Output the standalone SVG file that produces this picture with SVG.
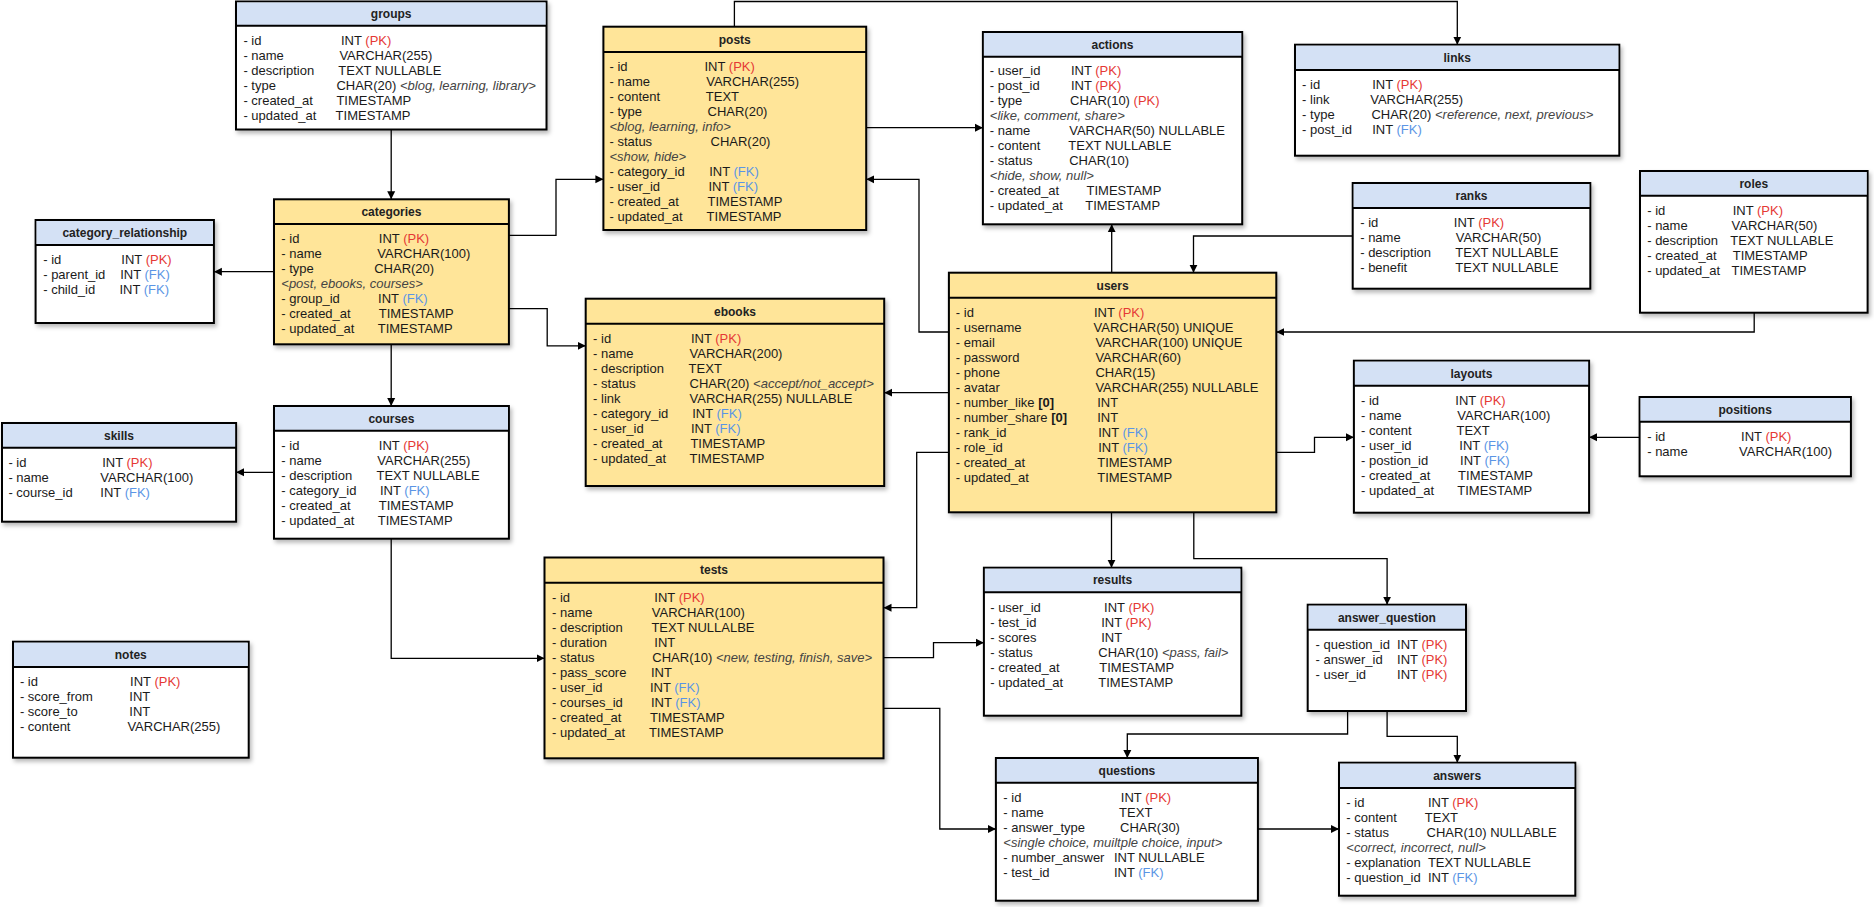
<svg xmlns="http://www.w3.org/2000/svg" width="1874" height="907" viewBox="0 0 1874 907">
<defs>
  <filter id="shadow" x="-5%" y="-5%" width="115%" height="115%">
    <feDropShadow dx="2" dy="3" stdDeviation="2" flood-color="#000" flood-opacity="0.28"/>
  </filter>
  <marker id="arr" viewBox="0 0 10 10" refX="10" refY="5" markerWidth="8" markerHeight="9" markerUnits="userSpaceOnUse" orient="auto">
    <path d="M0,0 L10,5 L0,10 z" fill="#000"/>
  </marker>
</defs>
<style>
  .box { stroke: #000; stroke-width: 2; filter: url(#shadow); }
  .w { fill: #ffffff; }
  .y { fill: #FFE599; }
  .hb { fill: #D4E1F5; }
  .hl { stroke: #000; stroke-width: 2; }
  .ttl { font-family: "Liberation Sans", Arial, sans-serif; font-size: 12px; font-weight: bold; fill: #222; text-anchor: middle; }
  .r { font-family: "Liberation Sans", Arial, sans-serif; font-size: 13px; fill: #1a1a1a; }
  .pk { fill: #E53935; }
  .fk { fill: #5B95E5; }
  .e { font-style: italic; fill: #444; }
  .b { font-weight: bold; }
  .c { fill: none; stroke: #000; stroke-width: 1.3; marker-end: url(#arr); }
</style>
<rect width="1874" height="907" fill="#ffffff"/>

<!-- relationships -->
<g id="connectors">
  <path class="c" d="M391.2,129.5 V199.3"/>
  <path class="c" d="M274,271.7 H213.9"/>
  <path class="c" d="M508.9,235.3 H556 V179.3 H603.4"/>
  <path class="c" d="M508.9,308.7 H547.2 V345.8 H585.7"/>
  <path class="c" d="M391.2,344.3 V406"/>
  <path class="c" d="M274,472.3 H236.1"/>
  <path class="c" d="M391.2,538.7 V658.3 H544.5"/>
  <path class="c" d="M734.4,26.7 V1.5 H1457.3 V44.7"/>
  <path class="c" d="M866.2,127.7 H982.9"/>
  <path class="c" d="M948.9,332 H919 V179.3 H866.2"/>
  <path class="c" d="M948.9,392.7 H884.2"/>
  <path class="c" d="M948.9,452.3 H916.7 V607.7 H883.5"/>
  <path class="c" d="M1111.7,272.7 V224.3"/>
  <path class="c" d="M1352.7,236 H1193.5 V272.7"/>
  <path class="c" d="M1754.2,312.7 V332 H1276.3"/>
  <path class="c" d="M1276.3,452.3 H1314.5 V437.3 H1353.9"/>
  <path class="c" d="M1639.6,437.3 H1589.1"/>
  <path class="c" d="M1111.5,512.3 V567.7"/>
  <path class="c" d="M1193.8,512.3 V558.7 H1387.1 V604.7"/>
  <path class="c" d="M883.5,657.7 H933.5 V642.7 H983.9"/>
  <path class="c" d="M883.5,708.3 H939.8 V829 H995.9"/>
  <path class="c" d="M1347.6,711 V734 H1127.3 V758"/>
  <path class="c" d="M1387.1,711 V736.3 H1457.3 V762.7"/>
  <path class="c" d="M1257.9,829 H1339"/>
</g>

<g id="groups">
  <rect class="box w" x="236" y="1.5" width="310.5" height="128"/>
  <rect class="hb" x="237" y="2.5" width="308.5" height="23.2"/>
  <line class="hl" x1="236" y1="25.7" x2="546.5" y2="25.7"/>
  <text class="ttl" x="391.2" y="18.3">groups</text>
  <text class="r" y="44.8"><tspan x="243.4">- id</tspan><tspan x="341">INT <tspan class="pk">(PK)</tspan></tspan></text>
  <text class="r" y="59.8"><tspan x="243.4">- name</tspan><tspan x="339.4">VARCHAR(255)</tspan></text>
  <text class="r" y="74.8"><tspan x="243.4">- description</tspan><tspan x="338.3">TEXT NULLABLE</tspan></text>
  <text class="r" y="89.8"><tspan x="243.4">- type</tspan><tspan x="336.4">CHAR(20) <tspan class="e">&lt;blog, learning, library&gt;</tspan></tspan></text>
  <text class="r" y="104.8"><tspan x="243.4">- created_at</tspan><tspan x="336.4">TIMESTAMP</tspan></text>
  <text class="r" y="119.8"><tspan x="243.4">- updated_at</tspan><tspan x="335.6">TIMESTAMP</tspan></text>
</g>

<g id="categories">
  <rect class="box y" x="274" y="199.3" width="234.9" height="145"/>
  <line class="hl" x1="274" y1="224" x2="508.9" y2="224"/>
  <text class="ttl" x="391.4" y="216">categories</text>
  <text class="r" y="243.2"><tspan x="281.3">- id</tspan><tspan x="378.8">INT <tspan class="pk">(PK)</tspan></tspan></text>
  <text class="r" y="258.2"><tspan x="281.3">- name</tspan><tspan x="377.3">VARCHAR(100)</tspan></text>
  <text class="r" y="273.2"><tspan x="281.3">- type</tspan><tspan x="374.2">CHAR(20)</tspan></text>
  <text class="r e" x="281.3" y="288.2">&lt;post, ebooks, courses&gt;</text>
  <text class="r" y="303.2"><tspan x="281.3">- group_id</tspan><tspan x="378.1">INT <tspan class="fk">(FK)</tspan></tspan></text>
  <text class="r" y="318.2"><tspan x="281.3">- created_at</tspan><tspan x="378.8">TIMESTAMP</tspan></text>
  <text class="r" y="333.2"><tspan x="281.3">- updated_at</tspan><tspan x="377.7">TIMESTAMP</tspan></text>
</g>

<g id="category_relationship">
  <rect class="box w" x="35.6" y="220" width="178.3" height="103"/>
  <rect class="hb" x="36.6" y="221" width="176.3" height="24"/>
  <line class="hl" x1="35.6" y1="245" x2="213.9" y2="245"/>
  <text class="ttl" x="124.8" y="236.8">category_relationship</text>
  <text class="r" y="263.8"><tspan x="43.2">- id</tspan><tspan x="121.3">INT <tspan class="pk">(PK)</tspan></tspan></text>
  <text class="r" y="278.8"><tspan x="43.2">- parent_id</tspan><tspan x="120.2">INT <tspan class="fk">(FK)</tspan></tspan></text>
  <text class="r" y="293.8"><tspan x="43.2">- child_id</tspan><tspan x="119.4">INT <tspan class="fk">(FK)</tspan></tspan></text>
</g>

<g id="posts">
  <rect class="box y" x="603.4" y="26.7" width="262.8" height="203.3"/>
  <line class="hl" x1="603.4" y1="52" x2="866.2" y2="52"/>
  <text class="ttl" x="734.8" y="43.7">posts</text>
  <text class="r" y="71.2"><tspan x="609.5">- id</tspan><tspan x="704.5">INT <tspan class="pk">(PK)</tspan></tspan></text>
  <text class="r" y="86.2"><tspan x="609.5">- name</tspan><tspan x="706.2">VARCHAR(255)</tspan></text>
  <text class="r" y="101.2"><tspan x="609.5">- content</tspan><tspan x="705.8">TEXT</tspan></text>
  <text class="r" y="116.2"><tspan x="609.5">- type</tspan><tspan x="707.5">CHAR(20)</tspan></text>
  <text class="r e" x="609.5" y="131.2">&lt;blog, learning, info&gt;</text>
  <text class="r" y="146.2"><tspan x="609.5">- status</tspan><tspan x="710.5">CHAR(20)</tspan></text>
  <text class="r e" x="609.5" y="161.2">&lt;show, hide&gt;</text>
  <text class="r" y="176.2"><tspan x="609.5">- category_id</tspan><tspan x="709.2">INT <tspan class="fk">(FK)</tspan></tspan></text>
  <text class="r" y="191.2"><tspan x="609.5">- user_id</tspan><tspan x="708.4">INT <tspan class="fk">(FK)</tspan></tspan></text>
  <text class="r" y="206.2"><tspan x="609.5">- created_at</tspan><tspan x="707.5">TIMESTAMP</tspan></text>
  <text class="r" y="221.2"><tspan x="609.5">- updated_at</tspan><tspan x="706.6">TIMESTAMP</tspan></text>
</g>

<g id="actions">
  <rect class="box w" x="982.9" y="32" width="259.3" height="192.3"/>
  <rect class="hb" x="983.9" y="33" width="257.3" height="23.7"/>
  <line class="hl" x1="982.9" y1="56.7" x2="1242.2" y2="56.7"/>
  <text class="ttl" x="1112.5" y="48.6">actions</text>
  <text class="r" y="75.2"><tspan x="989.8">- user_id</tspan><tspan x="1070.9">INT <tspan class="pk">(PK)</tspan></tspan></text>
  <text class="r" y="90.2"><tspan x="989.8">- post_id</tspan><tspan x="1070.9">INT <tspan class="pk">(PK)</tspan></tspan></text>
  <text class="r" y="105.2"><tspan x="989.8">- type</tspan><tspan x="1070">CHAR(10) <tspan class="pk">(PK)</tspan></tspan></text>
  <text class="r e" x="989.8" y="120.2">&lt;like, comment, share&gt;</text>
  <text class="r" y="135.2"><tspan x="989.8">- name</tspan><tspan x="1069.2">VARCHAR(50) NULLABLE</tspan></text>
  <text class="r" y="150.2"><tspan x="989.8">- content</tspan><tspan x="1068.3">TEXT NULLABLE</tspan></text>
  <text class="r" y="165.2"><tspan x="989.8">- status</tspan><tspan x="1069.2">CHAR(10)</tspan></text>
  <text class="r e" x="989.8" y="180.2">&lt;hide, show, null&gt;</text>
  <text class="r" y="195.2"><tspan x="989.8">- created_at</tspan><tspan x="1086.5">TIMESTAMP</tspan></text>
  <text class="r" y="210.2"><tspan x="989.8">- updated_at</tspan><tspan x="1085.2">TIMESTAMP</tspan></text>
</g>

<g id="links">
  <rect class="box w" x="1295" y="44.7" width="324.3" height="111"/>
  <rect class="hb" x="1296" y="45.7" width="322.3" height="24.3"/>
  <line class="hl" x1="1295" y1="70" x2="1619.3" y2="70"/>
  <text class="ttl" x="1457.2" y="61.6">links</text>
  <text class="r" y="88.8"><tspan x="1302.1">- id</tspan><tspan x="1372.2">INT <tspan class="pk">(PK)</tspan></tspan></text>
  <text class="r" y="103.8"><tspan x="1302.1">- link</tspan><tspan x="1370.2">VARCHAR(255)</tspan></text>
  <text class="r" y="118.8"><tspan x="1302.1">- type</tspan><tspan x="1371.4">CHAR(20) <tspan class="e">&lt;reference, next, previous&gt;</tspan></tspan></text>
  <text class="r" y="133.8"><tspan x="1302.1">- post_id</tspan><tspan x="1372.2">INT <tspan class="fk">(FK)</tspan></tspan></text>
</g>

<g id="ranks">
  <rect class="box w" x="1352.7" y="183" width="237.6" height="105.7"/>
  <rect class="hb" x="1353.7" y="184" width="235.6" height="24"/>
  <line class="hl" x1="1352.7" y1="208" x2="1590.3" y2="208"/>
  <text class="ttl" x="1471.5" y="199.8">ranks</text>
  <text class="r" y="226.8"><tspan x="1360.2">- id</tspan><tspan x="1453.8">INT <tspan class="pk">(PK)</tspan></tspan></text>
  <text class="r" y="241.8"><tspan x="1360.2">- name</tspan><tspan x="1455.7">VARCHAR(50)</tspan></text>
  <text class="r" y="256.8"><tspan x="1360.2">- description</tspan><tspan x="1455.3">TEXT NULLABLE</tspan></text>
  <text class="r" y="271.8"><tspan x="1360.2">- benefit</tspan><tspan x="1455.3">TEXT NULLABLE</tspan></text>
</g>

<g id="roles">
  <rect class="box w" x="1640" y="171" width="227.6" height="141.7"/>
  <rect class="hb" x="1641" y="172" width="225.6" height="23.7"/>
  <line class="hl" x1="1640" y1="195.7" x2="1867.6" y2="195.7"/>
  <text class="ttl" x="1753.8" y="187.6">roles</text>
  <text class="r" y="214.8"><tspan x="1647.2">- id</tspan><tspan x="1732.7">INT <tspan class="pk">(PK)</tspan></tspan></text>
  <text class="r" y="229.8"><tspan x="1647.2">- name</tspan><tspan x="1731.5">VARCHAR(50)</tspan></text>
  <text class="r" y="244.8"><tspan x="1647.2">- description</tspan><tspan x="1730.3">TEXT NULLABLE</tspan></text>
  <text class="r" y="259.8"><tspan x="1647.2">- created_at</tspan><tspan x="1732.7">TIMESTAMP</tspan></text>
  <text class="r" y="274.8"><tspan x="1647.2">- updated_at</tspan><tspan x="1731.5">TIMESTAMP</tspan></text>
</g>

<g id="users">
  <rect class="box y" x="948.9" y="272.7" width="327.4" height="239.6"/>
  <line class="hl" x1="948.9" y1="297.7" x2="1276.3" y2="297.7"/>
  <text class="ttl" x="1112.6" y="289.5">users</text>
  <text class="r" y="316.8"><tspan x="955.8">- id</tspan><tspan x="1094">INT <tspan class="pk">(PK)</tspan></tspan></text>
  <text class="r" y="331.8"><tspan x="955.8">- username</tspan><tspan x="1093.6">VARCHAR(50) UNIQUE</tspan></text>
  <text class="r" y="346.8"><tspan x="955.8">- email</tspan><tspan x="1095.4">VARCHAR(100) UNIQUE</tspan></text>
  <text class="r" y="361.8"><tspan x="955.8">- password</tspan><tspan x="1095.4">VARCHAR(60)</tspan></text>
  <text class="r" y="376.8"><tspan x="955.8">- phone</tspan><tspan x="1095.4">CHAR(15)</tspan></text>
  <text class="r" y="391.8"><tspan x="955.8">- avatar</tspan><tspan x="1095.4">VARCHAR(255) NULLABLE</tspan></text>
  <text class="r" y="406.8"><tspan x="955.8">- number_like <tspan class="b">[0]</tspan></tspan><tspan x="1097.2">INT</tspan></text>
  <text class="r" y="421.8"><tspan x="955.8">- number_share <tspan class="b">[0]</tspan></tspan><tspan x="1097.2">INT</tspan></text>
  <text class="r" y="436.8"><tspan x="955.8">- rank_id</tspan><tspan x="1098.2">INT <tspan class="fk">(FK)</tspan></tspan></text>
  <text class="r" y="451.8"><tspan x="955.8">- role_id</tspan><tspan x="1098.2">INT <tspan class="fk">(FK)</tspan></tspan></text>
  <text class="r" y="466.8"><tspan x="955.8">- created_at</tspan><tspan x="1097.2">TIMESTAMP</tspan></text>
  <text class="r" y="481.8"><tspan x="955.8">- updated_at</tspan><tspan x="1097.2">TIMESTAMP</tspan></text>
</g>

<g id="ebooks">
  <rect class="box y" x="585.7" y="298.7" width="298.5" height="187.3"/>
  <line class="hl" x1="585.7" y1="323.7" x2="884.2" y2="323.7"/>
  <text class="ttl" x="735" y="315.5">ebooks</text>
  <text class="r" y="343.2"><tspan x="593.1">- id</tspan><tspan x="690.9">INT <tspan class="pk">(PK)</tspan></tspan></text>
  <text class="r" y="358.2"><tspan x="593.1">- name</tspan><tspan x="689.5">VARCHAR(200)</tspan></text>
  <text class="r" y="373.2"><tspan x="593.1">- description</tspan><tspan x="688.6">TEXT</tspan></text>
  <text class="r" y="388.2"><tspan x="593.1">- status</tspan><tspan x="689.5">CHAR(20) <tspan class="e">&lt;accept/not_accept&gt;</tspan></tspan></text>
  <text class="r" y="403.2"><tspan x="593.1">- link</tspan><tspan x="689.5">VARCHAR(255) NULLABLE</tspan></text>
  <text class="r" y="418.2"><tspan x="593.1">- category_id</tspan><tspan x="692.2">INT <tspan class="fk">(FK)</tspan></tspan></text>
  <text class="r" y="433.2"><tspan x="593.1">- user_id</tspan><tspan x="690.9">INT <tspan class="fk">(FK)</tspan></tspan></text>
  <text class="r" y="448.2"><tspan x="593.1">- created_at</tspan><tspan x="690.4">TIMESTAMP</tspan></text>
  <text class="r" y="463.2"><tspan x="593.1">- updated_at</tspan><tspan x="689.5">TIMESTAMP</tspan></text>
</g>

<g id="layouts">
  <rect class="box w" x="1353.9" y="360.7" width="235.2" height="152"/>
  <rect class="hb" x="1354.9" y="361.7" width="233.2" height="24"/>
  <line class="hl" x1="1353.9" y1="385.7" x2="1589.1" y2="385.7"/>
  <text class="ttl" x="1471.5" y="377.5">layouts</text>
  <text class="r" y="405.2"><tspan x="1361">- id</tspan><tspan x="1455.3">INT <tspan class="pk">(PK)</tspan></tspan></text>
  <text class="r" y="420.2"><tspan x="1361">- name</tspan><tspan x="1457.3">VARCHAR(100)</tspan></text>
  <text class="r" y="435.2"><tspan x="1361">- content</tspan><tspan x="1456.5">TEXT</tspan></text>
  <text class="r" y="450.2"><tspan x="1361">- user_id</tspan><tspan x="1459.3">INT <tspan class="fk">(FK)</tspan></tspan></text>
  <text class="r" y="465.2"><tspan x="1361">- postion_id</tspan><tspan x="1460.1">INT <tspan class="fk">(FK)</tspan></tspan></text>
  <text class="r" y="480.2"><tspan x="1361">- created_at</tspan><tspan x="1458.1">TIMESTAMP</tspan></text>
  <text class="r" y="495.2"><tspan x="1361">- updated_at</tspan><tspan x="1457.3">TIMESTAMP</tspan></text>
</g>

<g id="positions">
  <rect class="box w" x="1639.6" y="397" width="211.3" height="79.3"/>
  <rect class="hb" x="1640.6" y="398" width="209.3" height="23.7"/>
  <line class="hl" x1="1639.6" y1="421.7" x2="1850.9" y2="421.7"/>
  <text class="ttl" x="1745.2" y="413.6">positions</text>
  <text class="r" y="441.2"><tspan x="1647.2">- id</tspan><tspan x="1741.1">INT <tspan class="pk">(PK)</tspan></tspan></text>
  <text class="r" y="456.2"><tspan x="1647.2">- name</tspan><tspan x="1739.1">VARCHAR(100)</tspan></text>
</g>

<g id="courses">
  <rect class="box w" x="274" y="406" width="234.9" height="132.7"/>
  <rect class="hb" x="275" y="407" width="232.9" height="23.7"/>
  <line class="hl" x1="274" y1="430.7" x2="508.9" y2="430.7"/>
  <text class="ttl" x="391.4" y="422.6">courses</text>
  <text class="r" y="449.8"><tspan x="281.3">- id</tspan><tspan x="378.8">INT <tspan class="pk">(PK)</tspan></tspan></text>
  <text class="r" y="464.8"><tspan x="281.3">- name</tspan><tspan x="377.3">VARCHAR(255)</tspan></text>
  <text class="r" y="479.8"><tspan x="281.3">- description</tspan><tspan x="376.5">TEXT NULLABLE</tspan></text>
  <text class="r" y="494.8"><tspan x="281.3">- category_id</tspan><tspan x="380">INT <tspan class="fk">(FK)</tspan></tspan></text>
  <text class="r" y="509.8"><tspan x="281.3">- created_at</tspan><tspan x="378.8">TIMESTAMP</tspan></text>
  <text class="r" y="524.8"><tspan x="281.3">- updated_at</tspan><tspan x="377.7">TIMESTAMP</tspan></text>
</g>

<g id="skills">
  <rect class="box w" x="2" y="423" width="234.1" height="98.7"/>
  <rect class="hb" x="3" y="424" width="232.1" height="23.7"/>
  <line class="hl" x1="2" y1="447.7" x2="236.1" y2="447.7"/>
  <text class="ttl" x="119" y="439.6">skills</text>
  <text class="r" y="466.8"><tspan x="8.4">- id</tspan><tspan x="102.2">INT <tspan class="pk">(PK)</tspan></tspan></text>
  <text class="r" y="481.8"><tspan x="8.4">- name</tspan><tspan x="100.3">VARCHAR(100)</tspan></text>
  <text class="r" y="496.8"><tspan x="8.4">- course_id</tspan><tspan x="100.3">INT <tspan class="fk">(FK)</tspan></tspan></text>
</g>

<g id="notes">
  <rect class="box w" x="13" y="641.7" width="235.7" height="116"/>
  <rect class="hb" x="14" y="642.7" width="233.7" height="24.3"/>
  <line class="hl" x1="13" y1="667" x2="248.7" y2="667"/>
  <text class="ttl" x="130.8" y="658.6">notes</text>
  <text class="r" y="685.5"><tspan x="19.9">- id</tspan><tspan x="130.1">INT <tspan class="pk">(PK)</tspan></tspan></text>
  <text class="r" y="700.5"><tspan x="19.9">- score_from</tspan><tspan x="129.3">INT</tspan></text>
  <text class="r" y="715.5"><tspan x="19.9">- score_to</tspan><tspan x="129.3">INT</tspan></text>
  <text class="r" y="730.5"><tspan x="19.9">- content</tspan><tspan x="127.4">VARCHAR(255)</tspan></text>
</g>

<g id="tests">
  <rect class="box y" x="544.5" y="557.5" width="339" height="200.8"/>
  <line class="hl" x1="544.5" y1="582.7" x2="883.5" y2="582.7"/>
  <text class="ttl" x="714" y="574.4">tests</text>
  <text class="r" y="601.8"><tspan x="552">- id</tspan><tspan x="654.3">INT <tspan class="pk">(PK)</tspan></tspan></text>
  <text class="r" y="616.8"><tspan x="552">- name</tspan><tspan x="651.8">VARCHAR(100)</tspan></text>
  <text class="r" y="631.8"><tspan x="552">- description</tspan><tspan x="651.4">TEXT NULLALBE</tspan></text>
  <text class="r" y="646.8"><tspan x="552">- duration</tspan><tspan x="654.3">INT</tspan></text>
  <text class="r" y="661.8"><tspan x="552">- status</tspan><tspan x="652.3">CHAR(10) <tspan class="e">&lt;new, testing, finish, save&gt;</tspan></tspan></text>
  <text class="r" y="676.8"><tspan x="552">- pass_score</tspan><tspan x="650.9">INT</tspan></text>
  <text class="r" y="691.8"><tspan x="552">- user_id</tspan><tspan x="649.9">INT <tspan class="fk">(FK)</tspan></tspan></text>
  <text class="r" y="706.8"><tspan x="552">- courses_id</tspan><tspan x="650.9">INT <tspan class="fk">(FK)</tspan></tspan></text>
  <text class="r" y="721.8"><tspan x="552">- created_at</tspan><tspan x="649.9">TIMESTAMP</tspan></text>
  <text class="r" y="736.8"><tspan x="552">- updated_at</tspan><tspan x="648.9">TIMESTAMP</tspan></text>
</g>

<g id="results">
  <rect class="box w" x="983.9" y="567.7" width="257.4" height="148"/>
  <rect class="hb" x="984.9" y="568.7" width="255.4" height="23.6"/>
  <line class="hl" x1="983.9" y1="592.3" x2="1241.3" y2="592.3"/>
  <text class="ttl" x="1112.6" y="584.3">results</text>
  <text class="r" y="612.2"><tspan x="990.2">- user_id</tspan><tspan x="1104.1">INT <tspan class="pk">(PK)</tspan></tspan></text>
  <text class="r" y="627.2"><tspan x="990.2">- test_id</tspan><tspan x="1101.2">INT <tspan class="pk">(PK)</tspan></tspan></text>
  <text class="r" y="642.2"><tspan x="990.2">- scores</tspan><tspan x="1101.2">INT</tspan></text>
  <text class="r" y="657.2"><tspan x="990.2">- status</tspan><tspan x="1098.3">CHAR(10) <tspan class="e">&lt;pass, fail&gt;</tspan></tspan></text>
  <text class="r" y="672.2"><tspan x="990.2">- created_at</tspan><tspan x="1099.3">TIMESTAMP</tspan></text>
  <text class="r" y="687.2"><tspan x="990.2">- updated_at</tspan><tspan x="1098.3">TIMESTAMP</tspan></text>
</g>

<g id="answer_question">
  <rect class="box w" x="1307.7" y="604.7" width="158.3" height="106.3"/>
  <rect class="hb" x="1308.7" y="605.7" width="156.3" height="24"/>
  <line class="hl" x1="1307.7" y1="629.7" x2="1466" y2="629.7"/>
  <text class="ttl" x="1386.9" y="621.5">answer_question</text>
  <text class="r" y="648.8"><tspan x="1315.5">- question_id</tspan><tspan x="1397.1">INT <tspan class="pk">(PK)</tspan></tspan></text>
  <text class="r" y="663.8"><tspan x="1315.5">- answer_id</tspan><tspan x="1397.1">INT <tspan class="pk">(PK)</tspan></tspan></text>
  <text class="r" y="678.8"><tspan x="1315.5">- user_id</tspan><tspan x="1397.1">INT <tspan class="pk">(PK)</tspan></tspan></text>
</g>

<g id="questions">
  <rect class="box w" x="995.9" y="758" width="262" height="142.7"/>
  <rect class="hb" x="996.9" y="759" width="260" height="23.7"/>
  <line class="hl" x1="995.9" y1="782.7" x2="1257.9" y2="782.7"/>
  <text class="ttl" x="1126.9" y="774.6">questions</text>
  <text class="r" y="801.8"><tspan x="1003.3">- id</tspan><tspan x="1120.8">INT <tspan class="pk">(PK)</tspan></tspan></text>
  <text class="r" y="816.8"><tspan x="1003.3">- name</tspan><tspan x="1119.1">TEXT</tspan></text>
  <text class="r" y="831.8"><tspan x="1003.3">- answer_type</tspan><tspan x="1120">CHAR(30)</tspan></text>
  <text class="r e" x="1003.3" y="846.8">&lt;single choice, muiltple choice, input&gt;</text>
  <text class="r" y="861.8"><tspan x="1003.3">- number_answer</tspan><tspan x="1113.9">INT NULLABLE</tspan></text>
  <text class="r" y="876.8"><tspan x="1003.3">- test_id</tspan><tspan x="1113.9">INT <tspan class="fk">(FK)</tspan></tspan></text>
</g>

<g id="answers">
  <rect class="box w" x="1339" y="762.7" width="236.3" height="133"/>
  <rect class="hb" x="1340" y="763.7" width="234.3" height="24.3"/>
  <line class="hl" x1="1339" y1="788" x2="1575.3" y2="788"/>
  <text class="ttl" x="1457.2" y="779.6">answers</text>
  <text class="r" y="806.8"><tspan x="1346.3">- id</tspan><tspan x="1427.9">INT <tspan class="pk">(PK)</tspan></tspan></text>
  <text class="r" y="821.8"><tspan x="1346.3">- content</tspan><tspan x="1424.8">TEXT</tspan></text>
  <text class="r" y="836.8"><tspan x="1346.3">- status</tspan><tspan x="1426.6">CHAR(10) NULLABLE</tspan></text>
  <text class="r e" x="1346.3" y="851.8">&lt;correct, incorrect, null&gt;</text>
  <text class="r" y="866.8"><tspan x="1346.3">- explanation</tspan><tspan x="1427.9">TEXT NULLABLE</tspan></text>
  <text class="r" y="881.8"><tspan x="1346.3">- question_id</tspan><tspan x="1427.9">INT <tspan class="fk">(FK)</tspan></tspan></text>
</g>
</svg>
